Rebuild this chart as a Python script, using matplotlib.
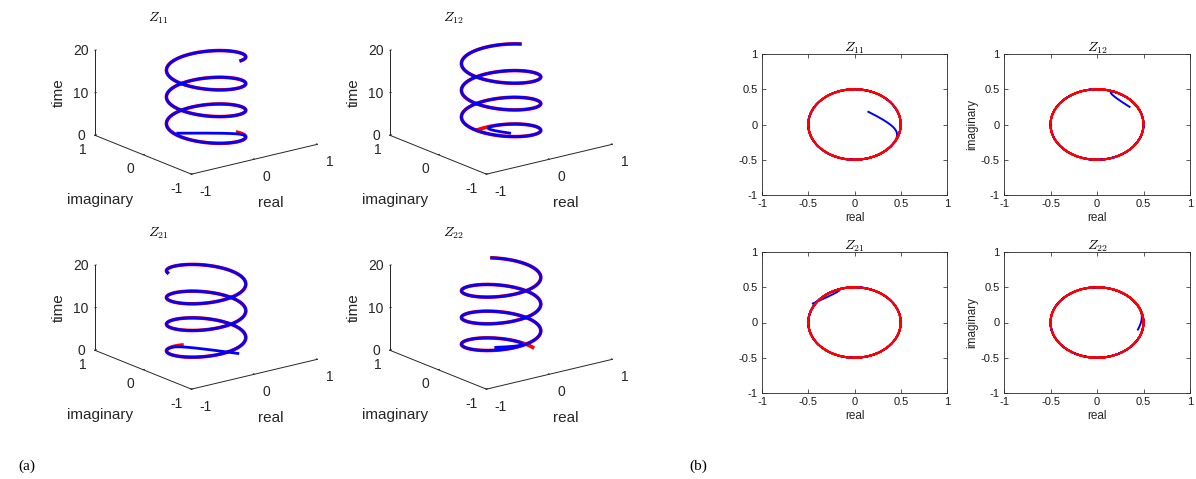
import types
import numpy as np
import matplotlib
matplotlib.use("Agg")
import matplotlib.pyplot as plt
from mpl_toolkits.mplot3d import Axes3D  # noqa: F401

plt.rcParams['font.family'] = ['Liberation Sans', 'DejaVu Sans']
plt.rcParams['mathtext.fontset'] = 'cm'
plt.rcParams['axes.unicode_minus'] = False

# entries of Z(t) = radius * exp(j*(phase0 + direction*t)), t in [0, 20]
names = ['11', '12', '21', '22']
radius = 0.5
t_end = 20.0
dt = 0.01
start_phase = [0.0, np.pi / 2, np.pi / 2, 0.0]
direction = [-1, -1, 1, 1]
tau = 0.1  # decay of the estimation error

# initial estimates (real, imag)
est_start_3d = [(-0.12, 0.43), (0.25, 0.15), (0.35, -0.20), (0.13, 0.28)]
est_start_2d = [(0.15, 0.18), (0.35, 0.25), (-0.45, 0.27), (0.44, -0.10)]

ticks_3d = [-1, 0, 1]
ticks_t = [0, 10, 20]
ticks_2d = [-1, -0.5, 0, 0.5, 1]
tick_labels_2d = ['-1', '-0.5', '0', '0.5', '1']

t = np.arange(0, t_end + dt / 2, dt)


def signals(k, z0):
    true = radius * np.exp(1j * (start_phase[k] + direction[k] * t))
    est = true + (complex(*z0) - true[0]) * np.exp(-t / tau)
    return true, est


def fill_axes(self, position=None):
    # stretch the 3d box to the whole axes, like matlab does
    if position is None:
        position = self.get_position(original=True)
    self._set_position(position, 'active')


W, H = 1196, 479
fig = plt.figure(figsize=(W / 100, H / 100), dpi=100)


def px_rect(left, top, w, h):
    return [left / W, 1 - (top + h) / H, w / W, h / H]


def px_text(x, y, s, **kw):
    fig.text(x / W, 1 - y / H, s, ha='center', va='center', **kw)


# (a) 3d helices, panel offsets in pixels
offsets_3d = [(0, 0), (295, 0), (0, 215), (295, 215)]

for k in range(4):
    dx, dy = offsets_3d[k]
    ax = fig.add_axes(px_rect(69 + dx, 17 + dy, 267, 165), projection='3d')
    ax.apply_aspect = types.MethodType(fill_axes, ax)
    ax.set_facecolor('none')
    ax.set_proj_type('ortho')
    ax.view_init(elev=30, azim=-127.5)
    ax.set_box_aspect((1, 1, 1))
    true, est = signals(k, est_start_3d[k])
    ax.plot(true.real, true.imag, t, color=(1, 0, 0), lw=2.6)
    ax.plot(est.real, est.imag, t, color=(0, 0, 1), lw=2.0)
    ax.set_xlim(-1, 1)
    ax.set_ylim(-1, 1)
    ax.set_zlim(0, 20)
    ax.set_xticks(ticks_3d)
    ax.set_yticks(ticks_3d)
    ax.set_zticks(ticks_t)
    ax.grid(False)
    for axis in (ax.xaxis, ax.yaxis, ax.zaxis):
        axis.set_pane_color((1, 1, 1, 0))
        axis.pane.set_edgecolor('none')
        axis.line.set_color('0.15')
        axis.line.set_linewidth(0.7)
        axis._axinfo['tick']['inward_factor'] = 0.0
        axis._axinfo['tick']['outward_factor'] = 0.15
        axis._axinfo['tick']['linewidth'] = {True: 0.6, False: 0.5}
    ax.tick_params(labelsize=10, colors='0.15')
    ax.tick_params(axis='x', pad=-1)
    ax.tick_params(axis='y', pad=-2.5)
    ax.tick_params(axis='z', pad=-3)
    for tk in ax.xaxis.get_major_ticks():
        tk.label1.set_horizontalalignment('left')
    for tk in ax.yaxis.get_major_ticks():
        tk.label1.set_horizontalalignment('right')
    for tk in ax.zaxis.get_major_ticks():
        tk.label1.set_verticalalignment('center_baseline')
    # axis labels placed where matlab puts them
    px_text(100 + dx, 200 + dy, 'imaginary', fontsize=11, color='0.15')
    px_text(271 + dx, 203 + dy, 'real', fontsize=11, color='0.15')
    px_text(59 + dx, 93 + dy, 'time', fontsize=11, color='0.15', rotation=90)
    px_text(158 + dx, 18 + dy, r'$Z_{%s}$' % names[k], fontsize=10)

# (b) 2d circles
rects_2d = [px_rect(762, 54, 185, 141), px_rect(1004, 54, 186, 141),
            px_rect(762, 252, 185, 141), px_rect(1004, 252, 186, 141)]

for k in range(4):
    ax = fig.add_axes(rects_2d[k])
    true, est = signals(k, est_start_2d[k])
    ax.plot(est.real, est.imag, color=(0, 0, 1), lw=1.4)
    ax.plot(true.real, true.imag, color=(1, 0, 0), lw=1.5, dashes=(4, 1.5))
    ax.set_xlim(-1, 1)
    ax.set_ylim(-1, 1)
    ax.set_xticks(ticks_2d)
    ax.set_xticklabels(tick_labels_2d)
    ax.set_yticks(ticks_2d)
    ax.set_yticklabels(tick_labels_2d)
    ax.tick_params(direction='in', top=True, right=True, length=3,
                   width=0.5, labelsize=8, colors='0.1', pad=3)
    for s in ax.spines.values():
        s.set_color('0.15')
        s.set_linewidth(0.6)
    ax.set_xlabel('real', fontsize=8.5, labelpad=2, color='0.15')
    # left column labels are cut off in the original figure
    if k % 2 == 1:
        ax.set_ylabel('imaginary', fontsize=8.5, labelpad=2, color='0.15')
    ax.set_title(r'$Z_{%s}$' % names[k], fontsize=10, pad=2)

fig.text(18 / W, 1 - 466 / H, '(a)', family='Liberation Serif',
         fontsize=11, va='center')
fig.text(689 / W, 1 - 466 / H, '(b)', family='Liberation Serif',
         fontsize=11, va='center')

fig.savefig('out.png', dpi=100)
